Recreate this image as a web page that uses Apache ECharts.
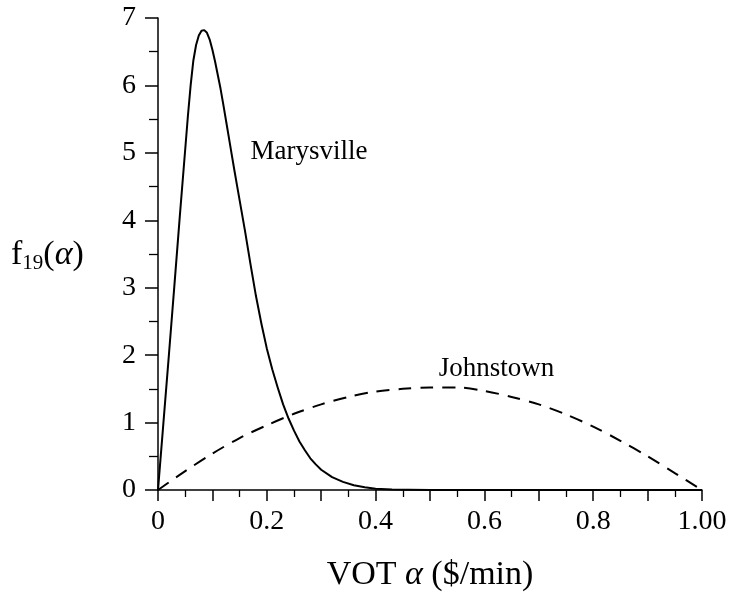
<!DOCTYPE html>
<html>
<head>
<meta charset="utf-8">
<script src="https://cdn.jsdelivr.net/npm/echarts@6/dist/echarts.min.js"></script>
<style>html,body{margin:0;padding:0;background:#fff;}#c{width:731px;height:597px;}</style>
</head>
<body>
<div id="c"></div>
<script>
// Data
var marysvilleX = [0, 0.01, 0.02, 0.03, 0.04, 0.05, 0.055, 0.06, 0.065, 0.07, 0.075, 0.08, 0.085, 0.09, 0.095, 0.1, 0.105, 0.11, 0.115, 0.12, 0.125, 0.13, 0.135, 0.14, 0.145, 0.15, 0.16, 0.17, 0.18, 0.19, 0.2, 0.21, 0.22, 0.23, 0.24, 0.25, 0.26, 0.27, 0.28, 0.29, 0.3, 0.32, 0.34, 0.36, 0.38, 0.4, 0.43, 0.46, 0.5, 0.6, 0.7, 0.8, 0.9, 1.0];
var marysvilleY = [0, 1.0, 2.0, 3.02, 4.05, 5.05, 5.55, 6.0, 6.37, 6.6, 6.74, 6.81, 6.82, 6.78, 6.68, 6.53, 6.35, 6.15, 5.95, 5.72, 5.48, 5.24, 5.0, 4.76, 4.53, 4.3, 3.84, 3.35, 2.88, 2.47, 2.1, 1.79, 1.52, 1.27, 1.06, 0.88, 0.72, 0.59, 0.47, 0.38, 0.30, 0.19, 0.12, 0.07, 0.04, 0.02, 0.008, 0.002, 0, 0, 0, 0, 0, 0];
var johnstownX = [0, 0.05, 0.1, 0.15, 0.2, 0.25, 0.3, 0.35, 0.4, 0.45, 0.5, 0.55, 0.6, 0.65, 0.7, 0.75, 0.8, 0.85, 0.9, 0.95, 1.0];
var johnstownY = [0, 0.28, 0.54, 0.77, 0.96, 1.13, 1.27, 1.38, 1.46, 1.50, 1.52, 1.52, 1.47, 1.38, 1.27, 1.12, 0.94, 0.73, 0.50, 0.25, 0];
var xTickValues = [0, 0.2, 0.4, 0.6, 0.8, 1.0];
var xTickLabels = ['0', '0.2', '0.4', '0.6', '0.8', '1.00'];
var yTickLabels = ['0', '1', '2', '3', '4', '5', '6', '7'];
var seriesNames = ['Marysville', 'Johnstown'];

function zip(xs, ys) { return xs.map(function (x, i) { return [x, ys[i]]; }); }

var FONT = 'Liberation Serif';
var chart = echarts.init(document.getElementById('c'), null, { renderer: 'canvas' });

var option = {
  backgroundColor: '#fff',
  animation: false,
  grid: { left: 158, right: 29, top: 18, bottom: 107 },
  xAxis: {
    type: 'value', min: 0, max: 1, interval: 0.1,
    axisLine: { lineStyle: { color: '#000', width: 1.5 } },
    axisTick: { show: true, length: 11, lineStyle: { color: '#000', width: 1.5 } },
    minorTick: { show: true, splitNumber: 2, length: 7, lineStyle: { color: '#000', width: 1.3 } },
    splitLine: { show: false },
    axisLabel: {
      margin: 18, color: '#000', fontFamily: FONT, fontSize: 28,
      showMinLabel: true, showMaxLabel: true,
      formatter: function (v) {
        for (var i = 0; i < xTickValues.length; i++) {
          if (Math.abs(v - xTickValues[i]) < 1e-6) return xTickLabels[i];
        }
        return '';
      }
    },
    name: '{n|VOT }{i|α}{n| ($/min)}',
    nameLocation: 'middle', nameGap: 68,
    nameTextStyle: {
      rich: {
        n: { fontFamily: FONT, fontSize: 34, color: '#000' },
        i: { fontFamily: FONT, fontSize: 34, fontStyle: 'italic', color: '#000' }
      }
    }
  },
  yAxis: {
    type: 'value', min: 0, max: 7, interval: 1,
    axisLine: { show: true, lineStyle: { color: '#000', width: 1.5 } },
    axisTick: { show: true, length: 13, lineStyle: { color: '#000', width: 1.5 } },
    minorTick: { show: true, splitNumber: 2, length: 9, lineStyle: { color: '#000', width: 1.3 } },
    splitLine: { show: false },
    axisLabel: {
      margin: 22, color: '#000', fontFamily: FONT, fontSize: 28,
      formatter: function (v) { return yTickLabels[Math.round(v)]; }
    }
  },
  graphic: [{
    type: 'text', left: 11, top: 238,
    style: {
      text: '{f|f}{s|19}{f|(}{i|α}{f|)}',
      rich: {
        f: { fontFamily: FONT, fontSize: 34, lineHeight: 38, verticalAlign: 'middle', fill: '#000' },
        i: { fontFamily: FONT, fontSize: 34, fontStyle: 'italic', lineHeight: 38, verticalAlign: 'middle', fill: '#000' },
        s: { fontFamily: FONT, fontSize: 21, lineHeight: 21, verticalAlign: 'bottom', fill: '#000' }
      }
    }
  }],
  series: [{
    name: seriesNames[0], type: 'line', data: zip(marysvilleX, marysvilleY),
    showSymbol: false, smooth: false,
    lineStyle: { color: '#000', width: 2, join: 'round' },
    markPoint: {
      symbol: 'circle', symbolSize: 1, itemStyle: { color: 'rgba(0,0,0,0)' },
      label: { show: true, position: 'right', distance: 0, color: '#000', fontFamily: FONT, fontSize: 27, formatter: '{b}' },
      data: [{ name: seriesNames[0], coord: [0.169, 5.01] }]
    }
  }, {
    name: seriesNames[1], type: 'line', data: zip(johnstownX, johnstownY),
    showSymbol: false, smooth: 0.3,
    lineStyle: { color: '#000', width: 2, type: [13, 9] },
    markPoint: {
      symbol: 'circle', symbolSize: 1, itemStyle: { color: 'rgba(0,0,0,0)' },
      label: { show: true, position: 'right', distance: 0, color: '#000', fontFamily: FONT, fontSize: 27, formatter: '{b}' },
      data: [{ name: seriesNames[1], coord: [0.515, 1.79] }]
    }
  }]
};
chart.setOption(option);
</script>
</body>
</html>
